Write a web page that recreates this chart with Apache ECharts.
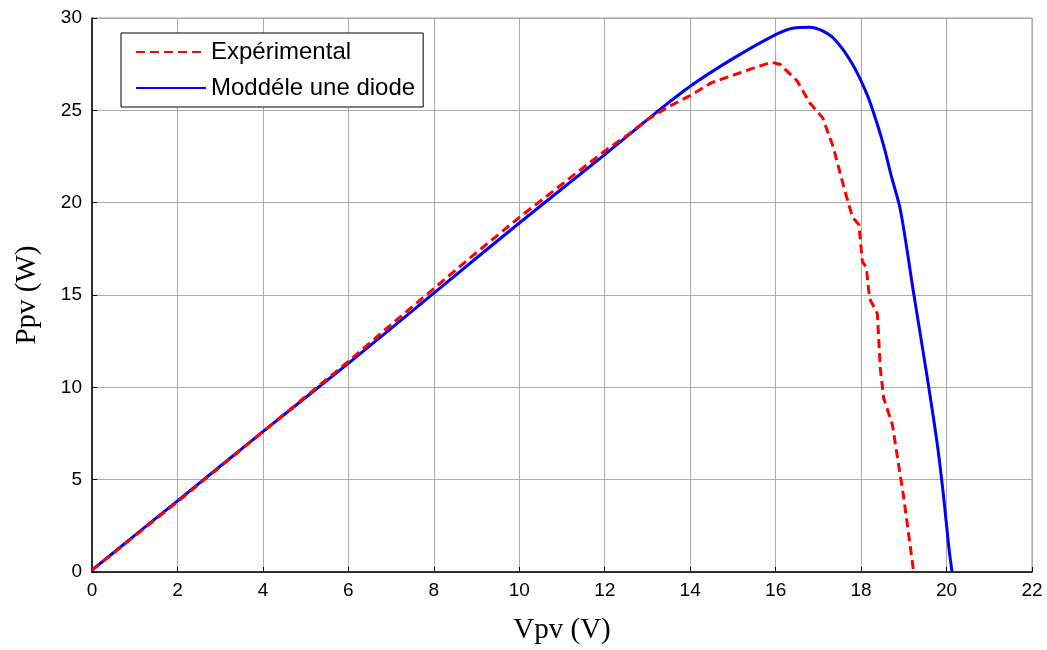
<!DOCTYPE html>
<html>
<head>
<meta charset="utf-8">
<script src="https://cdn.jsdelivr.net/npm/echarts@6/dist/echarts.min.js"></script>
<style>
  html, body { margin: 0; padding: 0; background: #fff; }
  #chart { width: 1047px; height: 650px; }
</style>
</head>
<body>
<div id="chart"></div>
<script>
// Expérimental (mesures)
var expV = [0, 1, 2, 3, 4, 5, 6, 6.6, 7, 8, 9, 10, 11, 12, 12.5, 13, 13.5, 14, 14.5, 15, 15.5, 15.9, 16.1, 16.5, 16.8, 17.1, 17.35, 17.6, 17.8, 17.95, 18.03, 18.12, 18.2, 18.38, 18.45, 18.53, 18.73, 19.0, 19.23];
var expP = [0.1, 1.95, 3.8, 5.7, 7.6, 9.5, 11.4, 12.6, 13.4, 15.35, 17.3, 19.2, 21.0, 22.8, 23.6, 24.5, 25.2, 25.8, 26.5, 26.9, 27.3, 27.6, 27.5, 26.6, 25.4, 24.6, 23.0, 20.8, 19.2, 18.8, 16.8, 16.5, 14.8, 14.0, 11.0, 9.4, 8.0, 4.0, 0];
// Modèle une diode
var modV = [0, 1, 2, 4, 6, 8, 10, 12, 13, 14, 15, 16, 16.4, 16.8, 17.1, 17.4, 17.8, 18.15, 18.4, 18.55, 18.7, 18.92, 19.23, 19.55, 19.79, 19.93, 20.05, 20.12, 20.13];
var modP = [0.1, 1.98, 3.85, 7.6, 11.3, 15.1, 18.9, 22.6, 24.5, 26.3, 27.8, 29.1, 29.45, 29.5, 29.3, 28.8, 27.5, 25.8, 24.1, 22.9, 21.5, 19.6, 15.1, 10.5, 6.8, 4.1, 1.4, 0.15, 0];

var legendNames = ['Expérimental', 'Moddéle une diode'];

function pairs(xs, ys) {
  return xs.map(function (x, i) { return [x, ys[i]]; });
}

var chart = echarts.init(document.getElementById('chart'));
chart.setOption({
  animation: false,
  backgroundColor: '#fff',
  grid: {
    left: 92, right: 15, top: 18, bottom: 77,
    show: true, borderColor: '#999', borderWidth: 1
  },
  legend: {
    data: legendNames,
    orient: 'vertical',
    left: 121, top: 33,
    backgroundColor: '#fff',
    borderColor: '#000', borderWidth: 1,
    padding: [7, 8, 7, 14],
    itemWidth: 70, itemHeight: 14, itemGap: 12,
    itemStyle: { opacity: 0 },
    textStyle: { fontFamily: 'Liberation Sans', fontSize: 24, color: '#000' }
  },
  xAxis: {
    type: 'value', min: 0, max: 22, interval: 2,
    name: 'Vpv (V)', nameLocation: 'middle', nameGap: 44,
    nameTextStyle: { fontFamily: 'Liberation Serif', fontSize: 29, color: '#000' },
    axisLine: { lineStyle: { color: '#000', width: 1.5 } },
    axisTick: { inside: true, length: 5, lineStyle: { color: '#000' } },
    axisLabel: { fontFamily: 'Liberation Sans', fontSize: 19, color: '#000', margin: 9 },
    splitLine: { show: true, lineStyle: { color: '#aaa', width: 1 } }
  },
  yAxis: {
    type: 'value', min: 0, max: 30, interval: 5,
    name: 'Ppv (W)', nameLocation: 'middle', nameGap: 50,
    nameTextStyle: { fontFamily: 'Liberation Serif', fontSize: 29, color: '#000' },
    axisLine: { show: true, lineStyle: { color: '#000', width: 1.5 } },
    axisTick: { show: true, inside: true, length: 5, lineStyle: { color: '#000' } },
    axisLabel: { fontFamily: 'Liberation Sans', fontSize: 19, color: '#000', margin: 10 },
    splitLine: { show: true, lineStyle: { color: '#aaa', width: 1 } }
  },
  series: [
    {
      name: legendNames[0], type: 'line', showSymbol: false, symbol: 'none',
      data: pairs(expV, expP), z: 3,
      lineStyle: { color: '#ff0000', width: 3, type: [9, 5] },
      itemStyle: { color: '#ff0000' }
    },
    {
      name: legendNames[1], type: 'line', showSymbol: false, symbol: 'none',
      smooth: 0.3,
      data: pairs(modV, modP), z: 2,
      lineStyle: { color: '#0000ff', width: 3 },
      itemStyle: { color: '#0000ff' }
    }
  ]
});
</script>
</body>
</html>
